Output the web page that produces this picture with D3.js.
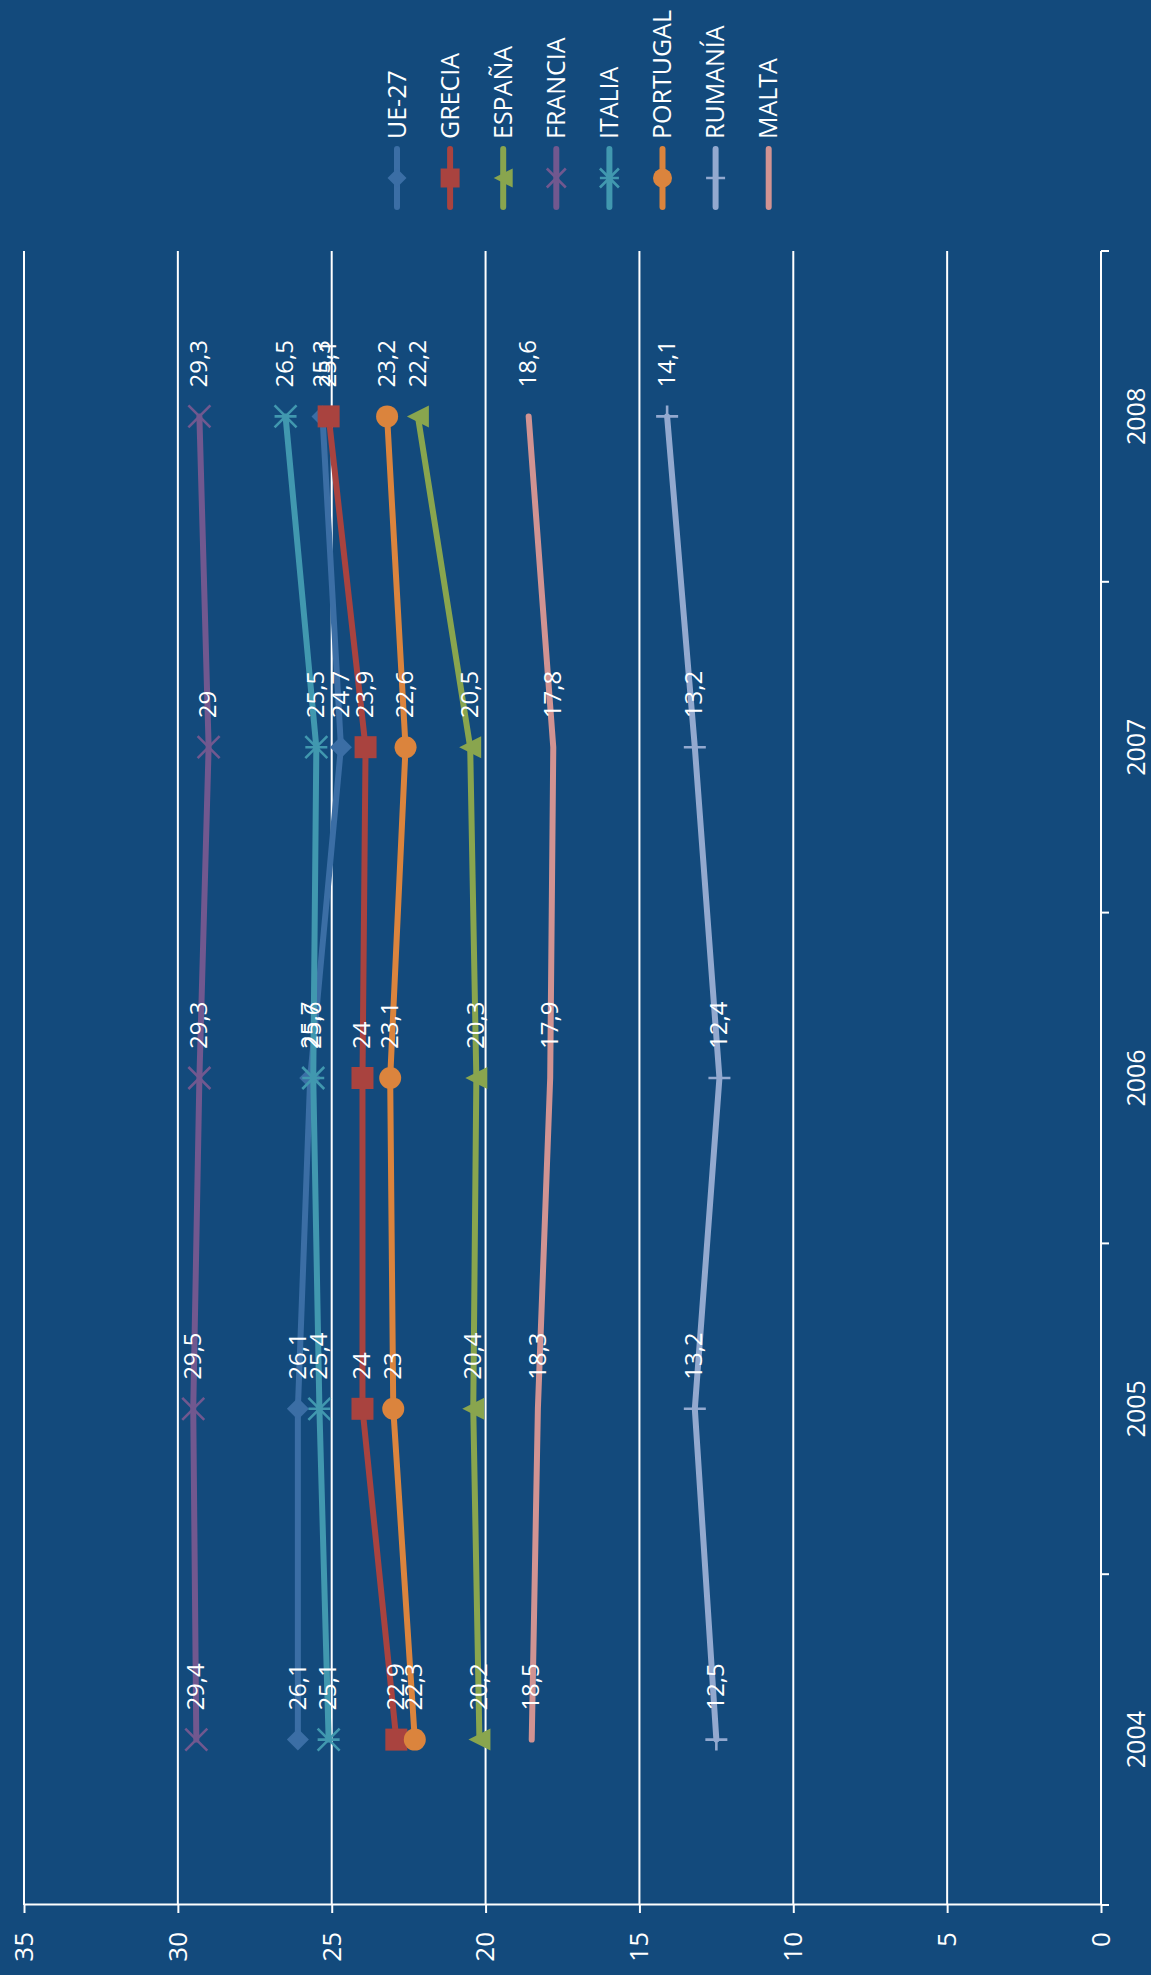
<!DOCTYPE html>
<html>
<head>
<meta charset="utf-8">
<script src="https://d3js.org/d3.v7.min.js"></script>
<style>
  body { margin: 0; background: #134a7c; }
  text { font-family: "Open Sans", sans-serif; fill: #ffffff; }
</style>
</head>
<body>
<div id="chart"></div>
<script>
// years along the category axis
var years = ["2004", "2005", "2006", "2007", "2008"];
var valueTicks = [0, 5, 10, 15, 20, 25, 30, 35];

var seriesNames = ["UE-27", "GRECIA", "ESPAÑA", "FRANCIA", "ITALIA", "PORTUGAL", "RUMANÍA", "MALTA"];
var ue27     = [26.1, 26.1, 25.7, 24.7, 25.3];
var grecia   = [22.9, 24, 24, 23.9, 25.1];
var espana   = [20.2, 20.4, 20.3, 20.5, 22.2];
var francia  = [29.4, 29.5, 29.3, 29, 29.3];
var italia   = [25.1, 25.4, 25.6, 25.5, 26.5];
var portugal = [22.3, 23, 23.1, 22.6, 23.2];
var rumania  = [12.5, 13.2, 12.4, 13.2, 14.1];
var malta    = [18.5, 18.3, 17.9, 17.8, 18.6];

var seriesColors  = ["#3b6ea5", "#a9433f", "#89a54e", "#71588f", "#4198af", "#db843d", "#93a9cf", "#d19392"];
var seriesMarkers = ["diamond", "square", "triangle", "x", "star", "circle", "plus", "none"];

var allValues = [ue27, grecia, espana, francia, italia, portugal, rumania, malta];
var series = seriesNames.map(function(name, i) {
  return {
    name: name,
    color: seriesColors[i],
    marker: seriesMarkers[i],
    values: allValues[i].map(function(v, j) { return { year: years[j], v: v }; })
  };
});

// the chart is laid out landscape then turned a quarter left
var W = 1975, H = 1151;
var svg = d3.select("#chart").append("svg")
    .attr("width", H)
    .attr("height", W);

svg.append("rect").attr("width", H).attr("height", W).attr("fill", "#134a7c");

var g = svg.append("g")
    .attr("transform", "translate(0," + W + ") rotate(-90)");

var x = d3.scaleBand().domain(years).range([70, 1724]);
var bw = x.bandwidth();
var y = d3.scaleLinear().domain([0, 35]).range([1101, 24]);

function cx(yr) { return x(yr) + bw / 2; }

// gridlines
g.append("g").selectAll("line")
  .data(valueTicks)
  .enter().append("line")
    .attr("x1", 70).attr("x2", 1724)
    .attr("y1", function(d) { return y(d); })
    .attr("y2", function(d) { return y(d); })
    .attr("stroke", "#ffffff")
    .attr("stroke-width", 2);

// value axis
var yAxis = g.append("g")
    .attr("transform", "translate(70,0)")
    .call(d3.axisLeft(y).tickValues(valueTicks).tickSize(8).tickSizeOuter(0).tickPadding(19));
yAxis.select(".domain").attr("stroke", "#ffffff").attr("stroke-width", 2);
yAxis.selectAll(".tick line").attr("stroke", "#ffffff").attr("stroke-width", 2);
yAxis.selectAll(".tick text")
    .attr("fill", "#ffffff")
    .style("font-family", "'Open Sans', sans-serif")
    .style("font-size", "26px");

// category axis
var xAxis = g.append("g");
xAxis.append("line")
    .attr("x1", 70).attr("x2", 1724)
    .attr("y1", y(0)).attr("y2", y(0))
    .attr("stroke", "#ffffff").attr("stroke-width", 2);
xAxis.selectAll(".bound")
  .data(years.map(function(d) { return x(d); }).concat([1724]))
  .enter().append("line")
    .attr("class", "bound")
    .attr("x1", function(d) { return d; })
    .attr("x2", function(d) { return d; })
    .attr("y1", y(0)).attr("y2", y(0) + 8)
    .attr("stroke", "#ffffff").attr("stroke-width", 2);
xAxis.selectAll(".yr")
  .data(years)
  .enter().append("text")
    .attr("class", "yr")
    .attr("x", function(d) { return cx(d); })
    .attr("y", y(0) + 44)
    .attr("text-anchor", "middle")
    .style("font-size", "25px")
    .text(function(d) { return d; });

function markerPath(type, s) {
  var h = s / 2;
  switch (type) {
    case "diamond": return "M0," + (-h) + "L" + h + ",0L0," + h + "L" + (-h) + ",0Z";
    case "square": return "M" + (-h) + "," + (-h) + "H" + h + "V" + h + "H" + (-h) + "Z";
    case "triangle": return "M0," + (-h) + "L" + h + "," + h + "H" + (-h) + "Z";
    case "circle": return d3.arc()({ innerRadius: 0, outerRadius: h, startAngle: 0, endAngle: 2 * Math.PI });
    case "x": return "M" + (-h) + "," + (-h) + "L" + h + "," + h + "M" + (-h) + "," + h + "L" + h + "," + (-h);
    case "star": return "M" + (-h) + "," + (-h) + "L" + h + "," + h + "M" + (-h) + "," + h + "L" + h + "," + (-h) + "M0," + (-h) + "V" + h;
    case "plus": return "M" + (-h) + ",0H" + h + "M0," + (-h) + "V" + h;
  }
  return "";
}
function isStroked(type) { return type === "x" || type === "star" || type === "plus"; }

function drawMarker(sel, d, s) {
  if (d.marker === "none") return;
  sel.append("path")
    .attr("d", markerPath(d.marker, s))
    .attr("fill", isStroked(d.marker) ? "none" : d.color)
    .attr("stroke", isStroked(d.marker) ? d.color : "none")
    .attr("stroke-width", 2.6);
}

var line = d3.line()
    .x(function(d) { return cx(d.year); })
    .y(function(d) { return y(d.v); });

var sg = g.append("g").selectAll(".series")
  .data(series)
  .enter().append("g")
    .attr("class", "series");

sg.append("path")
    .attr("d", function(d) { return line(d.values); })
    .attr("fill", "none")
    .attr("stroke", function(d) { return d.color; })
    .attr("stroke-width", 6)
    .attr("stroke-linejoin", "round")
    .attr("stroke-linecap", "round");

sg.each(function(d) {
  var s = d3.select(this);
  d.values.forEach(function(p) {
    var m = s.append("g").attr("transform", "translate(" + cx(p.year) + "," + y(p.v) + ")");
    drawMarker(m, d, 22);
  });
});

// data labels
var lg = g.append("g");
series.forEach(function(d) {
  lg.selectAll(null)
    .data(d.values)
    .enter().append("text")
      .attr("x", function(p) { return cx(p.year) + 29; })
      .attr("y", function(p) { return y(p.v); })
      .attr("dy", "0.32em")
      .style("font-size", "24px")
      .text(function(p) { return String(p.v).replace(".", ","); });
});

// legend
var leg = g.append("g").selectAll(".leg")
  .data(series)
  .enter().append("g")
    .attr("class", "leg")
    .attr("transform", function(d, i) { return "translate(0," + (397 + i * 53.1) + ")"; });

leg.append("line")
    .attr("x1", 1768).attr("x2", 1826)
    .attr("stroke", function(d) { return d.color; })
    .attr("stroke-width", 6)
    .attr("stroke-linecap", "round");

leg.each(function(d) {
  var m = d3.select(this).append("g").attr("transform", "translate(1797,0)");
  drawMarker(m, d, 19);
});

leg.append("text")
    .attr("x", 1836)
    .attr("dy", "0.35em")
    .style("font-size", "25px")
    .text(function(d) { return d.name; });
</script>
</body>
</html>
